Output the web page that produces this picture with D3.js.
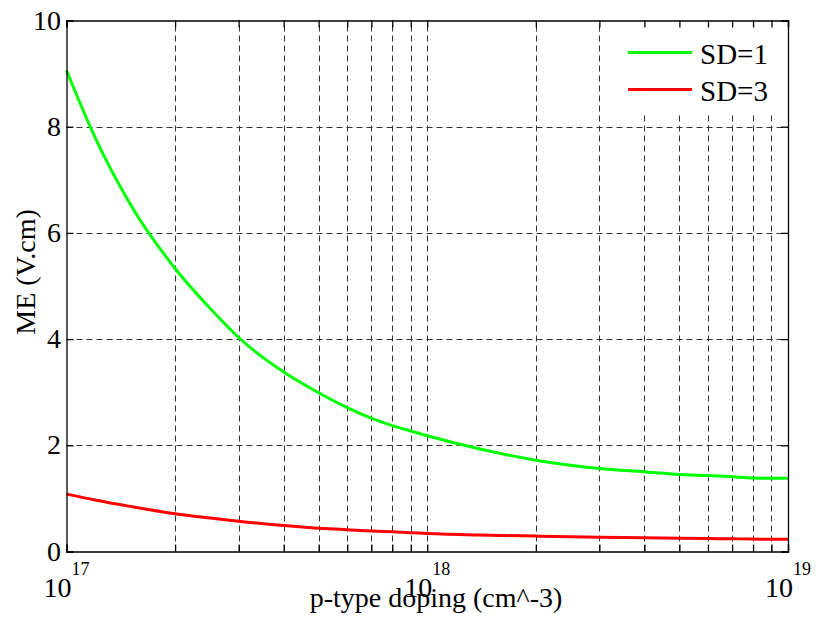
<!DOCTYPE html>
<html>
  <head>
    <title>ME vs doping</title>
    <style>
      body { margin: 0; background: #fff; }
    </style>
  </head>
  <body>
    <script src="https://d3js.org/d3.v7.min.js"></script>
    <script>
      // doping in cm^-3
      const doping = [1e17, 1.2e17, 1.5e17, 2e17, 2.5e17, 3e17, 4e17, 5e17, 6e17, 7e17, 8e17, 9e17,
                      1e18, 1.4e18, 2e18, 3e18, 4e18, 5e18, 6e18, 7e18, 8e18, 9e18, 1e19];
      const sd1 = [9.06, 7.8, 6.55, 5.33, 4.58, 4.03, 3.38, 2.99, 2.71, 2.51, 2.37, 2.27,
                   2.18, 1.93, 1.72, 1.565, 1.5, 1.45, 1.43, 1.41, 1.385, 1.38, 1.38];
      const sd3 = [1.08, 0.97, 0.85, 0.71, 0.63, 0.57, 0.49, 0.44, 0.41, 0.385, 0.37, 0.355,
                   0.34, 0.31, 0.29, 0.27, 0.26, 0.25, 0.245, 0.24, 0.235, 0.23, 0.23];
      const seriesNames = ["SD=1", "SD=3"];
      const seriesColors = ["#00ff00", "#ff0000"];
      const yTicks = [0, 2, 4, 6, 8, 10];
      const decades = [17, 18, 19];

      const W = 816, H = 626;
      const pLeft = 66.5, pRight = 788, pTop = 20.5, pBottom = 551.5;
      const serif = "'Liberation Serif', 'Times New Roman', 'DejaVu Serif', serif";

      const svg = d3.select("body").append("svg")
        .attr("width", W)
        .attr("height", H)
        .style("font-family", serif);

      const x = d3.scaleLog().domain([1e17, 1e19]).range([pLeft, pRight]);
      const y = d3.scaleLinear().domain([0, 10]).range([pBottom, pTop]);

      const xGrid = x.ticks().filter((d) => d > 1e17 && d < 1e19);

      // grid
      const grid = svg.append("g")
        .attr("stroke", "#333")
        .attr("stroke-width", 1)
        .attr("stroke-dasharray", "6,4");
      grid.selectAll(".vg")
        .data(xGrid)
        .enter()
        .append("line")
        .attr("x1", (d) => Math.round(x(d)) + 0.5)
        .attr("x2", (d) => Math.round(x(d)) + 0.5)
        .attr("y1", pBottom)
        .attr("y2", pTop);
      grid.selectAll(".hg")
        .data(yTicks.filter((d) => d > 0 && d < 10))
        .enter()
        .append("line")
        .attr("x1", pLeft)
        .attr("x2", pRight)
        .attr("y1", (d) => Math.round(y(d)) + 0.5)
        .attr("y2", (d) => Math.round(y(d)) + 0.5);

      // curves
      const line = d3.line()
        .x((d) => x(d[0]))
        .y((d) => y(d[1]))
        .curve(d3.curveMonotoneX);

      [sd1, sd3].forEach((vals, i) => {
        svg.append("path")
          .attr("d", line(doping.map((d, j) => [d, vals[j]])))
          .attr("fill", "none")
          .attr("stroke", seriesColors[i])
          .attr("stroke-width", 3);
      });

      // legend
      svg.append("rect")
        .attr("x", 607)
        .attr("y", pTop)
        .attr("width", pRight - 607)
        .attr("height", 92)
        .attr("fill", "#fff");
      seriesNames.forEach((name, i) => {
        const ly = 52.5 + i * 37;
        svg.append("line")
          .attr("x1", 628).attr("x2", 692)
          .attr("y1", ly).attr("y2", ly)
          .attr("stroke", seriesColors[i])
          .attr("stroke-width", 3);
        svg.append("text")
          .attr("x", 700)
          .attr("y", ly + 11)
          .attr("font-size", 29)
          .text(name);
      });

      // axes, ticks pointing inward
      const tickLen = 7;
      svg.append("g")
        .attr("transform", `translate(0,${pBottom})`)
        .call(d3.axisBottom(x).tickValues(x.ticks()).tickSize(-tickLen).tickFormat(""));
      svg.append("g")
        .attr("transform", `translate(0,${pTop})`)
        .call(d3.axisTop(x).tickValues(x.ticks()).tickSize(-tickLen).tickFormat(""));
      svg.append("g")
        .attr("transform", `translate(${pLeft},0)`)
        .call(d3.axisLeft(y).tickValues(yTicks).tickSize(-tickLen).tickFormat(""));
      svg.append("g")
        .attr("transform", `translate(${pRight},0)`)
        .call(d3.axisRight(y).tickValues(yTicks).tickSize(-tickLen).tickFormat(""));
      svg.selectAll(".domain, .tick line")
        .attr("stroke", "#000")
        .attr("stroke-width", 1.3);

      // y tick labels
      svg.selectAll(".ylab")
        .data(yTicks)
        .enter()
        .append("text")
        .attr("x", 61)
        .attr("y", (d) => y(d) + 9)
        .attr("text-anchor", "end")
        .attr("font-size", 28)
        .text((d) => d);

      // x decade labels
      const dl = svg.selectAll(".xlab")
        .data(decades)
        .enter()
        .append("text")
        .attr("x", (d) => x(Math.pow(10, d)))
        .attr("y", 597)
        .attr("text-anchor", "middle")
        .attr("font-size", 28);
      dl.append("tspan").text("10");
      dl.append("tspan")
        .attr("dy", -22)
        .attr("font-size", 18)
        .text((d) => d);

      // axis titles
      svg.append("text")
        .attr("x", 436)
        .attr("y", 607)
        .attr("text-anchor", "middle")
        .attr("font-size", 28)
        .text("p-type doping (cm^-3)");
      svg.append("text")
        .attr("transform", "translate(35,272) rotate(-90)")
        .attr("text-anchor", "middle")
        .attr("font-size", 28)
        .text("ME (V.cm)");
    </script>
  </body>
</html>
